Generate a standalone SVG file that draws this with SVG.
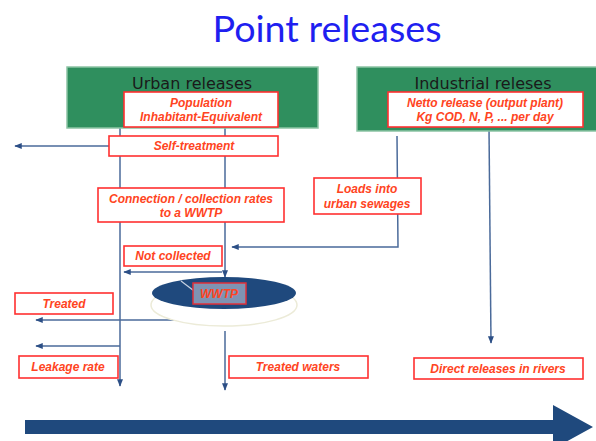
<svg xmlns="http://www.w3.org/2000/svg" width="596" height="441" viewBox="0 0 596 441">
<defs>
<style>
.title{font-family:Lato,"DejaVu Sans",sans-serif;font-size:37px;fill:#1f1ff0;text-anchor:middle}
.head{font-family:"DejaVu Sans","Liberation Sans",sans-serif;font-size:16px;fill:#1a1a1a;text-anchor:middle}
.green{fill:#2f8f5e;stroke:#8cc4a4;stroke-width:1.5}
.lbl{fill:#fff;stroke:#ff3030;stroke-width:1.6}
.lt{font-family:"Liberation Sans",Arial,sans-serif;font-size:12px;font-weight:bold;font-style:italic;fill:#ff4422;text-anchor:middle}
.ln{fill:none;stroke:#4a6a9a;stroke-width:1.5}
</style>
<marker id="ah" viewBox="0 0 10 10" refX="9" refY="5" markerWidth="5" markerHeight="5" orient="auto">
<path d="M0,1 L10,5 L0,9 z" fill="#2c4f86"/>
</marker>
</defs>
<rect width="596" height="441" fill="#fff"/>
<text class="title" x="327" y="42" textLength="229" lengthAdjust="spacingAndGlyphs">Point releases</text>

<g id="connectors">
<line class="ln" x1="120" y1="128" x2="120" y2="386" marker-end="url(#ah)"/>
<line class="ln" x1="225" y1="128" x2="225" y2="277" marker-end="url(#ah)"/>
<line class="ln" x1="225" y1="331" x2="225" y2="390" marker-end="url(#ah)"/>
<line class="ln" x1="109" y1="146" x2="15" y2="146" marker-end="url(#ah)"/>
<polyline class="ln" points="397,136 398,247 232,247" marker-end="url(#ah)"/>
<line class="ln" x1="489" y1="128" x2="491" y2="343" marker-end="url(#ah)"/>
<line class="ln" x1="222" y1="272" x2="124" y2="272" marker-end="url(#ah)"/>
<line class="ln" x1="205" y1="320" x2="36" y2="320" marker-end="url(#ah)"/>
<line class="ln" x1="120" y1="346" x2="36" y2="346" marker-end="url(#ah)"/>
</g>

<g id="urban">
<rect class="green" x="67" y="67" width="251" height="61"/>
<text class="head" x="192" y="89">Urban releases</text>
</g>
<g id="industrial">
<rect class="green" x="357" y="67" width="240" height="64"/>
<text class="head" x="483" y="89">Industrial releses</text>
</g>

<g id="population">
<rect class="lbl" x="124" y="92" width="154" height="35"/>
<text class="lt" x="201" y="107">Population</text>
<text class="lt" x="201" y="121">Inhabitant-Equivalent</text>
</g>
<g id="netto">
<rect class="lbl" x="388" y="92" width="195" height="35"/>
<text class="lt" x="485" y="107">Netto release (output plant)</text>
<text class="lt" x="485" y="121">Kg COD, N, P, ... per day</text>
</g>
<g id="selftreatment">
<rect class="lbl" x="109" y="136" width="169" height="20"/>
<text class="lt" x="194" y="150">Self-treatment</text>
</g>
<g id="loads">
<rect class="lbl" x="314" y="178" width="107" height="36"/>
<text class="lt" x="367" y="193">Loads into</text>
<text class="lt" x="367" y="208">urban sewages</text>
</g>
<g id="connection">
<rect class="lbl" x="98" y="188" width="186" height="34"/>
<text class="lt" x="191" y="203">Connection / collection rates</text>
<text class="lt" x="191" y="217">to a WWTP</text>
</g>
<g id="notcollected">
<rect class="lbl" x="124" y="246" width="98" height="20"/>
<text class="lt" x="173" y="260">Not collected</text>
</g>
<g id="wwtp">
<ellipse cx="224" cy="305" rx="73" ry="21" fill="#fff" stroke="#ecebd8" stroke-width="1.5"/>
<ellipse cx="224" cy="293" rx="72" ry="16" fill="#1f497d"/>
<line x1="181" y1="281" x2="206" y2="300" stroke="#c9d3e3" stroke-width="1.2"/>
<rect x="193" y="283" width="53" height="21" fill="#7f93b3" stroke="#e0303a" stroke-width="1.5"/>
<text class="lt" x="219" y="298">WWTP</text>
</g>
<g id="treated">
<rect class="lbl" x="15" y="293" width="98" height="21"/>
<text class="lt" x="64" y="308">Treated</text>
</g>
<g id="leakage">
<rect class="lbl" x="19" y="356" width="99" height="22"/>
<text class="lt" x="68" y="371">Leakage rate</text>
</g>
<g id="treatedwaters">
<rect class="lbl" x="229" y="356" width="139" height="22"/>
<text class="lt" x="298" y="371">Treated waters</text>
</g>
<g id="direct">
<rect class="lbl" x="414" y="358" width="169" height="21"/>
<text class="lt" x="498" y="373">Direct releases in rivers</text>
</g>

<g id="flow">
<polygon points="25,420 553,420 553,405 593,427 553,449 553,434 25,434" fill="#1f497d"/>
</g>
</svg>
